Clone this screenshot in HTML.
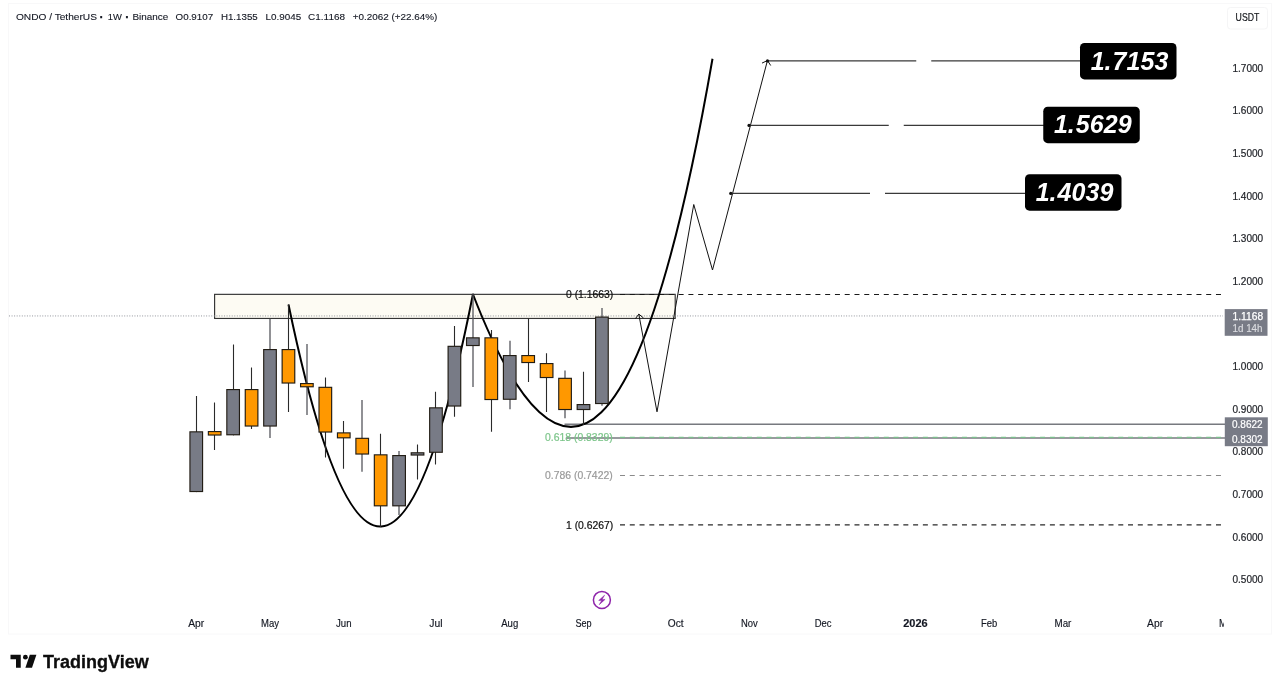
<!DOCTYPE html>
<html lang="en"><head><meta charset="utf-8"><title>ONDO / TetherUS</title>
<style>html,body{margin:0;padding:0;background:#fff;overflow:hidden}svg{display:block}text{font-family:"Liberation Sans", sans-serif}</style></head><body>
<svg width="1280" height="688" viewBox="0 0 1280 688">
<rect width="1280" height="688" fill="#fff"/>
<rect x="8.5" y="3.5" width="1263" height="630.5" fill="none" stroke="#f8f8f9" stroke-width="1"/>
<rect x="214.6" y="294.35" width="460.6" height="24.1" fill="#fdfbf3" stroke="#333" stroke-width="1.15"/>
<line x1="9" y1="315.95" x2="1223" y2="315.95" stroke="#94979e" stroke-width="1" stroke-dasharray="1 1.56"/>
<line x1="564.5" y1="424.3" x2="1225" y2="424.3" stroke="#77797f" stroke-width="1.5"/>
<line x1="566" y1="438.1" x2="1225" y2="438.1" stroke="#77797f" stroke-width="1.5"/>
<line x1="620" y1="294.5" x2="1223" y2="294.5" stroke="#1a1a1a" stroke-width="1" stroke-dasharray="5 4.77"/>
<line x1="620" y1="437.35" x2="1223" y2="437.35" stroke="#7abf8b" stroke-width="1.1" stroke-dasharray="5 4.77"/>
<line x1="620" y1="475.5" x2="1223" y2="475.5" stroke="#8a8a8a" stroke-width="1" stroke-dasharray="5 4.77"/>
<line x1="620" y1="524.9" x2="1223" y2="524.9" stroke="#2a2a2a" stroke-width="1.25" stroke-dasharray="5 4.77"/>
<path d="M288.5 304.5 Q381.82 753.81 473 294" fill="none" stroke="#000" stroke-width="2" stroke-linejoin="round"/>
<path d="M472.75 293.75 Q610.07 648.36 712.5 58.75" fill="none" stroke="#000" stroke-width="2"/>
<path d="M638.8 314.2 L657 411.8 L693.75 204.5 L712.5 270 L767.5 60.3" fill="none" stroke="#111" stroke-width="1" stroke-linejoin="miter"/>
<path d="M635.4 318.7 L638.8 314.1 L643.5 318" fill="none" stroke="#111" stroke-width="1"/>
<path d="M762 63.1 L767.5 60.5 L770.7 65.5" fill="none" stroke="#111" stroke-width="1"/>
<path d="M767.5 60.95 H916.25 M931.25 60.95 H1081" stroke="#3a3a3a" stroke-width="1.2" fill="none"/>
<circle cx="767.5" cy="60.95" r="1.6" fill="#111"/>
<path d="M749 125.4 H888.75 M903.75 125.4 H1044" stroke="#3a3a3a" stroke-width="1.2" fill="none"/>
<circle cx="749" cy="125.4" r="1.6" fill="#111"/>
<path d="M730.75 193.4 H870 M885 193.4 H1026" stroke="#3a3a3a" stroke-width="1.2" fill="none"/>
<circle cx="730.75" cy="193.4" r="1.6" fill="#111"/>
<line x1="196.50" y1="396" x2="196.50" y2="492.1" stroke="#2a2a2a" stroke-width="1.1"/>
<rect x="189.35" y="431.25" width="13.8" height="60.85" fill="#221d15"/>
<rect x="190.50" y="432.4" width="11.5" height="58.55" fill="#787b86"/>
<line x1="214.50" y1="402.5" x2="214.50" y2="450" stroke="#2a2a2a" stroke-width="1.1"/>
<rect x="207.79" y="431" width="13.8" height="4.6" fill="#221d15"/>
<rect x="208.94" y="432.15" width="11.5" height="2.3" fill="#ff9800"/>
<line x1="233.50" y1="344.5" x2="233.50" y2="435.35" stroke="#2a2a2a" stroke-width="1.1"/>
<rect x="226.23" y="389" width="13.8" height="46.35" fill="#221d15"/>
<rect x="227.38" y="390.15" width="11.5" height="44.05" fill="#787b86"/>
<line x1="251.50" y1="367.5" x2="251.50" y2="429" stroke="#2a2a2a" stroke-width="1.1"/>
<rect x="244.67" y="389" width="13.8" height="37.6" fill="#221d15"/>
<rect x="245.82" y="390.15" width="11.5" height="35.3" fill="#ff9800"/>
<line x1="270.00" y1="318.75" x2="270.00" y2="438" stroke="#55565c" stroke-width="1.3"/>
<rect x="263.11" y="349" width="13.8" height="77.6" fill="#221d15"/>
<rect x="264.26" y="350.15" width="11.5" height="75.3" fill="#787b86"/>
<line x1="288.50" y1="304.5" x2="288.50" y2="412" stroke="#2a2a2a" stroke-width="1.1"/>
<rect x="281.55" y="349" width="13.8" height="34.6" fill="#221d15"/>
<rect x="282.70" y="350.15" width="11.5" height="32.3" fill="#ff9800"/>
<line x1="307.00" y1="344" x2="307.00" y2="415" stroke="#55565c" stroke-width="1.3"/>
<rect x="299.99" y="383" width="13.8" height="4.35" fill="#221d15"/>
<rect x="301.14" y="384.15" width="11.5" height="2.05" fill="#ff9800"/>
<line x1="325.50" y1="377.5" x2="325.50" y2="457.5" stroke="#2a2a2a" stroke-width="1.1"/>
<rect x="318.43" y="386.75" width="13.8" height="45.85" fill="#221d15"/>
<rect x="319.58" y="387.9" width="11.5" height="43.55" fill="#ff9800"/>
<line x1="343.50" y1="421" x2="343.50" y2="468.75" stroke="#2a2a2a" stroke-width="1.1"/>
<rect x="336.87" y="432.3" width="13.8" height="6.1" fill="#221d15"/>
<rect x="338.02" y="433.45" width="11.5" height="3.8" fill="#ff9800"/>
<line x1="362.00" y1="400" x2="362.00" y2="471.75" stroke="#55565c" stroke-width="1.3"/>
<rect x="355.31" y="437.75" width="13.8" height="16.85" fill="#221d15"/>
<rect x="356.46" y="438.9" width="11.5" height="14.55" fill="#ff9800"/>
<line x1="380.50" y1="433.75" x2="380.50" y2="527" stroke="#2a2a2a" stroke-width="1.1"/>
<rect x="373.75" y="454.25" width="13.8" height="52.15" fill="#221d15"/>
<rect x="374.90" y="455.4" width="11.5" height="49.85" fill="#ff9800"/>
<line x1="399.00" y1="451" x2="399.00" y2="515" stroke="#55565c" stroke-width="1.3"/>
<rect x="392.19" y="455" width="13.8" height="51.4" fill="#221d15"/>
<rect x="393.34" y="456.15" width="11.5" height="49.1" fill="#787b86"/>
<line x1="417.50" y1="444.5" x2="417.50" y2="479.5" stroke="#2a2a2a" stroke-width="1.1"/>
<rect x="410.63" y="452.2" width="13.8" height="3.4" fill="#221d15"/>
<rect x="411.78" y="453.34999999999997" width="11.5" height="1.1" fill="#787b86"/>
<line x1="435.50" y1="391.75" x2="435.50" y2="464.5" stroke="#2a2a2a" stroke-width="1.1"/>
<rect x="429.07" y="407.25" width="13.8" height="45.6" fill="#221d15"/>
<rect x="430.22" y="408.4" width="11.5" height="43.3" fill="#787b86"/>
<line x1="454.50" y1="326" x2="454.50" y2="416.75" stroke="#2a2a2a" stroke-width="1.1"/>
<rect x="447.51" y="345.75" width="13.8" height="60.85" fill="#221d15"/>
<rect x="448.66" y="346.9" width="11.5" height="58.55" fill="#787b86"/>
<line x1="473.00" y1="294" x2="473.00" y2="387" stroke="#55565c" stroke-width="1.3"/>
<rect x="465.95" y="337.25" width="13.8" height="8.85" fill="#221d15"/>
<rect x="467.10" y="338.4" width="11.5" height="6.55" fill="#787b86"/>
<line x1="491.50" y1="330" x2="491.50" y2="431.75" stroke="#2a2a2a" stroke-width="1.1"/>
<rect x="484.39" y="337.25" width="13.8" height="62.85" fill="#221d15"/>
<rect x="485.54" y="338.4" width="11.5" height="60.55" fill="#ff9800"/>
<line x1="510.00" y1="340.75" x2="510.00" y2="409.25" stroke="#55565c" stroke-width="1.3"/>
<rect x="502.83" y="355" width="13.8" height="44.85" fill="#221d15"/>
<rect x="503.98" y="356.15" width="11.5" height="42.55" fill="#787b86"/>
<line x1="528.50" y1="318.25" x2="528.50" y2="382" stroke="#2a2a2a" stroke-width="1.1"/>
<rect x="521.27" y="355" width="13.8" height="8.1" fill="#221d15"/>
<rect x="522.42" y="356.15" width="11.5" height="5.8" fill="#ff9800"/>
<line x1="546.50" y1="353.25" x2="546.50" y2="412" stroke="#2a2a2a" stroke-width="1.1"/>
<rect x="539.71" y="363" width="13.8" height="15.1" fill="#221d15"/>
<rect x="540.86" y="364.15" width="11.5" height="12.8" fill="#ff9800"/>
<line x1="565.00" y1="370.5" x2="565.00" y2="418.25" stroke="#55565c" stroke-width="1.3"/>
<rect x="558.15" y="377.75" width="13.8" height="32.35" fill="#221d15"/>
<rect x="559.30" y="378.9" width="11.5" height="30.05" fill="#ff9800"/>
<line x1="583.50" y1="371.75" x2="583.50" y2="425" stroke="#2a2a2a" stroke-width="1.1"/>
<rect x="576.59" y="404" width="13.8" height="6.1" fill="#221d15"/>
<rect x="577.74" y="405.15" width="11.5" height="3.8" fill="#787b86"/>
<line x1="602.00" y1="308" x2="602.00" y2="405.75" stroke="#55565c" stroke-width="1.3"/>
<rect x="595.03" y="316.5" width="13.8" height="87.6" fill="#221d15"/>
<rect x="596.18" y="317.65" width="11.5" height="85.3" fill="#787b86"/>
<rect x="1080" y="43" width="96.5" height="36.4" rx="4.5" fill="#000"/>
<text x="1090.7 1104.4 1112.6 1126.5 1140.5 1154.5" y="69.6" font-size="25" font-weight="bold" font-style="italic" fill="#fff">1.7153</text>
<rect x="1043.25" y="106.75" width="96.5" height="36.4" rx="4.5" fill="#000"/>
<text x="1054.0 1067.7 1075.8 1089.8 1103.8 1117.8" y="133.35" font-size="25" font-weight="bold" font-style="italic" fill="#fff">1.5629</text>
<rect x="1025" y="174.25" width="96.5" height="36.4" rx="4.5" fill="#000"/>
<text x="1035.7 1049.4 1057.6 1071.5 1085.5 1099.5" y="200.85" font-size="25" font-weight="bold" font-style="italic" fill="#fff">1.4039</text>
<text x="566" y="298.05" font-size="10.3" fill="#111" stroke="#111" stroke-width="0.2" textLength="47.3" lengthAdjust="spacingAndGlyphs">0 (1.1663)</text>
<text x="545" y="441.05" font-size="10.3" fill="#7cc58a" stroke="#7cc58a" stroke-width="0.2" textLength="67.7" lengthAdjust="spacingAndGlyphs">0.618 (0.8329)</text>
<text x="545" y="479.05" font-size="10.3" fill="#9a9a9a" stroke="#9a9a9a" stroke-width="0.2" textLength="67.7" lengthAdjust="spacingAndGlyphs">0.786 (0.7422)</text>
<text x="566" y="528.55" font-size="10.3" fill="#111" stroke="#111" stroke-width="0.2" textLength="47.3" lengthAdjust="spacingAndGlyphs">1 (0.6267)</text>
<text x="15.9" y="20.1" font-size="9.9" fill="#131722" stroke="#131722" stroke-width="0.12" textLength="81.1" lengthAdjust="spacingAndGlyphs">ONDO / TetherUS</text>
<text x="99.6" y="20.5" font-size="12" fill="#131722" stroke="#131722" stroke-width="0.3" font-weight="bold">·</text>
<text x="107.8" y="20.1" font-size="9.9" fill="#131722" stroke="#131722" stroke-width="0.12" textLength="14.1" lengthAdjust="spacingAndGlyphs">1W</text>
<text x="125.3" y="20.5" font-size="12" fill="#131722" stroke="#131722" stroke-width="0.3" font-weight="bold">·</text>
<text x="132.4" y="20.1" font-size="9.9" fill="#131722" stroke="#131722" stroke-width="0.12" textLength="35.8" lengthAdjust="spacingAndGlyphs">Binance</text>
<text x="175.6" y="20.1" font-size="9.9" fill="#131722" stroke="#131722" stroke-width="0.12" textLength="37.5" lengthAdjust="spacingAndGlyphs">O0.9107</text>
<text x="220.9" y="20.1" font-size="9.9" fill="#131722" stroke="#131722" stroke-width="0.12" textLength="36.85" lengthAdjust="spacingAndGlyphs">H1.1355</text>
<text x="265.6" y="20.1" font-size="9.9" fill="#131722" stroke="#131722" stroke-width="0.12" textLength="35.65" lengthAdjust="spacingAndGlyphs">L0.9045</text>
<text x="308.1" y="20.1" font-size="9.9" fill="#131722" stroke="#131722" stroke-width="0.12" textLength="36.9" lengthAdjust="spacingAndGlyphs">C1.1168</text>
<text x="352.75" y="20.1" font-size="9.9" fill="#131722" stroke="#131722" stroke-width="0.12" textLength="84.5" lengthAdjust="spacingAndGlyphs">+0.2062 (+22.64%)</text>
<rect x="1227.5" y="7.5" width="40" height="21.5" rx="3" fill="#fff" stroke="#f5f5f6" stroke-width="1"/>
<text x="1235.6" y="21.3" font-size="10.3" fill="#16181d" stroke="#16181d" stroke-width="0.2" textLength="23.7" lengthAdjust="spacingAndGlyphs">USDT</text>
<text x="1232.5" y="583.35" font-size="10.3" fill="#1e2026" stroke="#1e2026" stroke-width="0.2" textLength="30.7" lengthAdjust="spacingAndGlyphs">0.5000</text>
<text x="1232.5" y="540.7" font-size="10.3" fill="#1e2026" stroke="#1e2026" stroke-width="0.2" textLength="30.7" lengthAdjust="spacingAndGlyphs">0.6000</text>
<text x="1232.5" y="498.05" font-size="10.3" fill="#1e2026" stroke="#1e2026" stroke-width="0.2" textLength="30.7" lengthAdjust="spacingAndGlyphs">0.7000</text>
<text x="1232.5" y="455.4" font-size="10.3" fill="#1e2026" stroke="#1e2026" stroke-width="0.2" textLength="30.7" lengthAdjust="spacingAndGlyphs">0.8000</text>
<text x="1232.5" y="412.75" font-size="10.3" fill="#1e2026" stroke="#1e2026" stroke-width="0.2" textLength="30.7" lengthAdjust="spacingAndGlyphs">0.9000</text>
<text x="1232.5" y="370.1" font-size="10.3" fill="#1e2026" stroke="#1e2026" stroke-width="0.2" textLength="30.7" lengthAdjust="spacingAndGlyphs">1.0000</text>
<text x="1232.5" y="327.45" font-size="10.3" fill="#1e2026" stroke="#1e2026" stroke-width="0.2" textLength="30.7" lengthAdjust="spacingAndGlyphs">1.1000</text>
<text x="1232.5" y="284.8" font-size="10.3" fill="#1e2026" stroke="#1e2026" stroke-width="0.2" textLength="30.7" lengthAdjust="spacingAndGlyphs">1.2000</text>
<text x="1232.5" y="242.15" font-size="10.3" fill="#1e2026" stroke="#1e2026" stroke-width="0.2" textLength="30.7" lengthAdjust="spacingAndGlyphs">1.3000</text>
<text x="1232.5" y="199.5" font-size="10.3" fill="#1e2026" stroke="#1e2026" stroke-width="0.2" textLength="30.7" lengthAdjust="spacingAndGlyphs">1.4000</text>
<text x="1232.5" y="156.85" font-size="10.3" fill="#1e2026" stroke="#1e2026" stroke-width="0.2" textLength="30.7" lengthAdjust="spacingAndGlyphs">1.5000</text>
<text x="1232.5" y="114.2" font-size="10.3" fill="#1e2026" stroke="#1e2026" stroke-width="0.2" textLength="30.7" lengthAdjust="spacingAndGlyphs">1.6000</text>
<text x="1232.5" y="71.55" font-size="10.3" fill="#1e2026" stroke="#1e2026" stroke-width="0.2" textLength="30.7" lengthAdjust="spacingAndGlyphs">1.7000</text>
<rect x="1224.7" y="309.1" width="42.8" height="26.7" fill="#787b86"/>
<text x="1232.5" y="319.8" font-size="10" fill="#fff" stroke="#fff" stroke-width="0.25" textLength="30.6" lengthAdjust="spacingAndGlyphs">1.1168</text>
<text x="1232.5" y="332.15" font-size="10" fill="#dcdde1" stroke="#dcdde1" stroke-width="0.15" textLength="30" lengthAdjust="spacingAndGlyphs">1d 14h</text>
<rect x="1224.8" y="417.3" width="43" height="28.9" fill="#787b86"/>
<text x="1232" y="428.1" font-size="10" fill="#fff" stroke="#fff" stroke-width="0.2" textLength="30.6" lengthAdjust="spacingAndGlyphs">0.8622</text>
<text x="1232" y="443" font-size="10" fill="#fff" stroke="#fff" stroke-width="0.2" textLength="30.6" lengthAdjust="spacingAndGlyphs">0.8302</text>
<text x="188.25" y="627.3" font-size="10" fill="#131722" stroke="#131722" stroke-width="0.15" textLength="16" lengthAdjust="spacingAndGlyphs">Apr</text>
<text x="261.01" y="627.3" font-size="10" fill="#131722" stroke="#131722" stroke-width="0.15" textLength="18" lengthAdjust="spacingAndGlyphs">May</text>
<text x="336.02" y="627.3" font-size="10" fill="#131722" stroke="#131722" stroke-width="0.15" textLength="15.5" lengthAdjust="spacingAndGlyphs">Jun</text>
<text x="429.37" y="627.3" font-size="10" fill="#131722" stroke="#131722" stroke-width="0.15" textLength="13.2" lengthAdjust="spacingAndGlyphs">Jul</text>
<text x="501.23" y="627.3" font-size="10" fill="#131722" stroke="#131722" stroke-width="0.15" textLength="17" lengthAdjust="spacingAndGlyphs">Aug</text>
<text x="575.39" y="627.3" font-size="10" fill="#131722" stroke="#131722" stroke-width="0.15" textLength="16.2" lengthAdjust="spacingAndGlyphs">Sep</text>
<text x="667.79" y="627.3" font-size="10" fill="#131722" stroke="#131722" stroke-width="0.15" textLength="15.8" lengthAdjust="spacingAndGlyphs">Oct</text>
<text x="741.05" y="627.3" font-size="10" fill="#131722" stroke="#131722" stroke-width="0.15" textLength="16.8" lengthAdjust="spacingAndGlyphs">Nov</text>
<text x="814.81" y="627.3" font-size="10" fill="#131722" stroke="#131722" stroke-width="0.15" textLength="16.8" lengthAdjust="spacingAndGlyphs">Dec</text>
<text x="903.21" y="627.3" font-size="10" fill="#131722" stroke="#131722" stroke-width="0.15" textLength="24.4" lengthAdjust="spacingAndGlyphs" font-weight="bold">2026</text>
<text x="981.07" y="627.3" font-size="10" fill="#131722" stroke="#131722" stroke-width="0.15" textLength="16.2" lengthAdjust="spacingAndGlyphs">Feb</text>
<text x="1054.53" y="627.3" font-size="10" fill="#131722" stroke="#131722" stroke-width="0.15" textLength="16.8" lengthAdjust="spacingAndGlyphs">Mar</text>
<text x="1147.13" y="627.3" font-size="10" fill="#131722" stroke="#131722" stroke-width="0.15" textLength="16" lengthAdjust="spacingAndGlyphs">Apr</text>
<clipPath id="tc"><rect x="0" y="600" width="1224" height="40"/></clipPath>
<g clip-path="url(#tc)">
<text x="1219" y="627.3" font-size="10" fill="#131722" stroke="#131722" stroke-width="0.15" textLength="18" lengthAdjust="spacingAndGlyphs">May</text>
</g>
<circle cx="601.9" cy="599.9" r="8.5" fill="none" stroke="#8e24aa" stroke-width="1.5"/>
<path d="M604.6 595.2 L598.7 600.4 L601.7 600.4 L599.2 604.7 L605.1 599.4 L602.1 599.4 Z" fill="#8e24aa" stroke="#8e24aa" stroke-width="0.5" stroke-linejoin="round"/>
<g fill="#0d0d0d"><path d="M10.5 654.8 H20.75 V667.7 H16 V659.3 H10.5 Z"/><circle cx="25.4" cy="657.2" r="2.4"/><path d="M29.8 654.8 H36.4 L32 667.7 H25.4 Z"/></g>
<text x="43.1" y="667.5" font-size="17.5" fill="#0d0d0d" stroke="#0d0d0d" stroke-width="0.3" textLength="105.6" lengthAdjust="spacingAndGlyphs" font-weight="bold">TradingView</text>
</svg></body></html>
